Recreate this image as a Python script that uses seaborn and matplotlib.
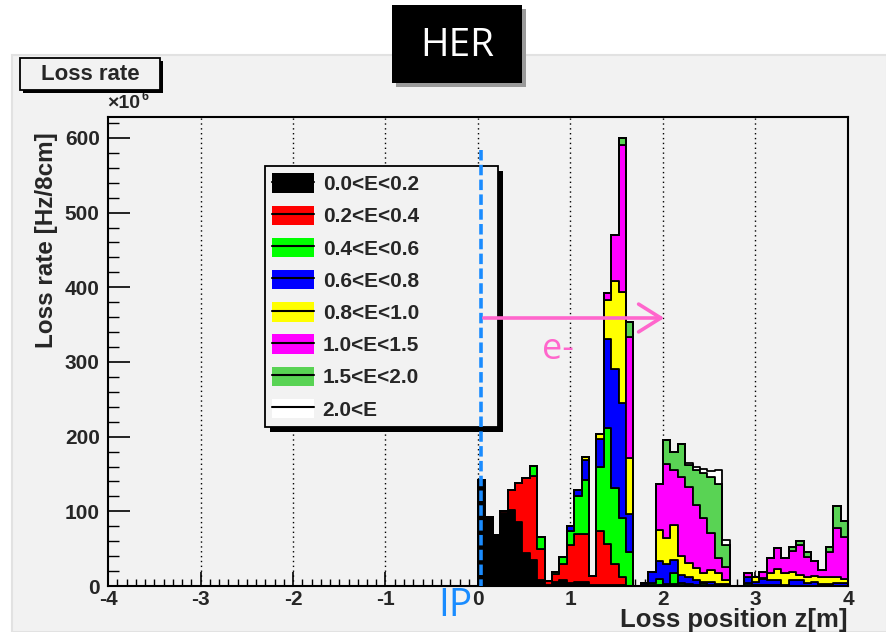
import numpy as np
import pandas as pd
import matplotlib
matplotlib.use("Agg")
import matplotlib.pyplot as plt
import seaborn as sns
from matplotlib.patches import Patch, Rectangle, FancyArrowPatch
from matplotlib.lines import Line2D
from matplotlib.ticker import MultipleLocator

# ---------------- data (loss rate in 1e6 Hz per 8 cm bin) ----------------
bin_width = 0.08            # m
z_min, z_max = -4.0, 4.0
n_filled = 50               # bins from z = 0 to 4 m (z < 0 is empty)

energy_labels = ["0.0<E<0.2", "0.2<E<0.4", "0.4<E<0.6", "0.6<E<0.8",
                 "0.8<E<1.0", "1.0<E<1.5", "1.5<E<2.0", "2.0<E"]
energy_colors = ["#000000", "#ff0000", "#00ff00", "#0000ff",
                 "#ffff00", "#ff00ff", "#59d354", "#ffffff"]

e00_02 = [142, 93, 68, 98, 102, 86, 44, 35, 8, 2,
          5, 8, 4, 6, 6, 1, 2, 2, 2, 1,
          0, 0, 1, 1, 2, 1, 3, 1, 1, 0,
          2, 1, 1, 1, 0, 0, 1, 1, 1, 1,
          1, 1, 0, 0, 0, 0, 0, 0, 0, 0]
e02_04 = [0, 0, 0, 2, 27, 52, 100, 112, 41, 5,
          11, 22, 51, 64, 64, 13, 71, 54, 28, 11,
          0, 0, 0, 0, 0, 0, 0, 0, 0, 0,
          0, 0, 0, 0, 0, 0, 0, 0, 0, 0,
          0, 0, 0, 0, 0, 0, 0, 0, 0, 0]
e04_06 = [0, 0, 0, 0, 0, 0, 0, 14, 16, 0,
          3, 9, 18, 50, 72, 0, 87, 155, 101, 79,
          46, 0, 1, 3, 7, 2, 15, 3, 2, 1,
          2, 1, 0, 0, 0, 0, 3, 0, 0, 0,
          0, 0, 0, 0, 0, 0, 0, 0, 0, 0]
e06_08 = [0, 0, 0, 0, 0, 0, 0, 0, 0, 0,
          0, 0, 7, 9, 27, 0, 37, 120, 160, 154,
          51, 0, 2, 15, 24, 27, 17, 11, 9, 7,
          2, 3, 2, 2, 0, 0, 8, 5, 8, 7,
          7, 1, 8, 8, 4, 5, 3, 3, 4, 4]
e08_10 = [0, 0, 0, 0, 0, 0, 0, 0, 0, 0,
          0, 0, 0, 0, 4, 0, 7, 52, 117, 149,
          74, 0, 0, 0, 42, 34, 47, 25, 19, 16,
          12, 17, 14, 5, 0, 0, 0, 6, 2, 9,
          15, 16, 11, 7, 8, 8, 9, 9, 8, 6]
e10_15 = [0, 0, 0, 0, 0, 0, 0, 0, 0, 0,
          0, 0, 0, 0, 0, 0, 0, 9, 62, 196,
          163, 0, 0, 0, 62, 100, 73, 106, 102, 84,
          73, 49, 20, 17, 0, 0, 5, 0, 8, 21,
          28, 20, 28, 40, 27, 21, 10, 34, 65, 56]
e15_20 = [0, 0, 0, 0, 0, 0, 0, 0, 0, 0,
          0, 0, 0, 0, 0, 0, 0, 0, 0, 10,
          20, 0, 0, 0, 0, 32, 25, 44, 29, 47,
          60, 75, 100, 30, 0, 0, 0, 0, 0, 0,
          0, 0, 5, 5, 7, 0, 0, 6, 30, 21]
e20_up = [0, 0, 0, 0, 0, 0, 0, 0, 0, 0,
          0, 0, 0, 0, 0, 0, 0, 0, 0, 0,
          0, 0, 0, 0, 0, 0, 0, 0, 3, 5,
          5, 8, 18, 6, 0, 0, 1, 0, 0, 0,
          0, 0, 0, 0, 0, 0, 0, 0, 0, 0]

series = [e00_02, e02_04, e04_06, e06_08, e08_10, e10_15, e15_20, e20_up]

x_ticks = [-4, -3, -2, -1, 0, 1, 2, 3, 4]
y_ticks = [0, 100, 200, 300, 400, 500, 600]

# long table for seaborn
centers = np.arange(n_filled) * bin_width + bin_width / 2
df = pd.concat([pd.DataFrame({"z": centers, "E": lab, "rate": vals})
                for lab, vals in zip(energy_labels, series)], ignore_index=True)
palette = dict(zip(energy_labels, energy_colors))

# ---------------- styling ----------------
sns.set_style("ticks")
plt.rcParams["font.family"] = ["Liberation Sans", "DejaVu Sans"]
plt.rcParams["axes.unicode_minus"] = False

W, H = 887, 632
def fx(x): return x / W
def fy(y): return 1 - y / H

fig = plt.figure(figsize=(W / 100, H / 100), dpi=100)
fig.patch.set_facecolor("white")
BG = "#f2f2f2"

# ROOT canvas
fig.add_artist(Rectangle((fx(12), 0), fx(W - 12), 1 - 55 / H, transform=fig.transFigure,
                         facecolor=BG, edgecolor="#e2e2e2", lw=1.5, zorder=-5))

ax = fig.add_axes([fx(108), fy(586), fx(740), 469 / H])
ax.set_facecolor(BG)

sns.histplot(data=df, x="z", weights="rate", hue="E",
             hue_order=energy_labels[::-1], palette=palette,
             multiple="stack", element="step", binwidth=bin_width,
             binrange=(z_min, z_max), fill=True,
             alpha=1, edgecolor="black", linewidth=1.3, legend=False, ax=ax)

ax.set_xlim(z_min, z_max)
ax.set_ylim(0, 628)
ax.set_xlabel("")
ax.set_ylabel("")
ax.set_xticks(x_ticks)
ax.set_xticklabels([str(t) for t in x_ticks])
ax.set_yticks(y_ticks)
ax.set_yticklabels([str(t) for t in y_ticks])
ax.xaxis.set_minor_locator(MultipleLocator(0.1))
ax.yaxis.set_minor_locator(MultipleLocator(20))
ax.tick_params(axis="x", which="major", direction="in", length=10, width=1.2,
               labelsize=15, pad=3, color="black")
ax.tick_params(axis="x", which="minor", direction="in", length=5, width=1.0, color="black")
ax.tick_params(axis="y", which="major", direction="in", length=16, width=1.2,
               labelsize=15, pad=6, color="black")
ax.tick_params(axis="y", which="minor", direction="in", length=8, width=1.0, color="black")
for lab in ax.get_xticklabels() + ax.get_yticklabels():
    lab.set_fontweight("bold")
for sp in ax.spines.values():
    sp.set_visible(True)
    sp.set_color("black")
    sp.set_linewidth(1.5)
for xv in x_ticks[1:-1]:
    ax.axvline(xv, color="black", lw=1.0, ls=(0, (1, 2.5)), zorder=0.5)

# axis titles
fig.text(fx(47), fy(240), "Loss rate [Hz/8cm]", rotation=90, ha="center", va="center",
         fontsize=17.5, fontweight="bold")
fig.text(fx(848), fy(620), "Loss position z[m]", ha="right", va="center",
         fontsize=18.5, fontweight="bold")
fig.text(fx(107), fy(104), "\u00d710", ha="left", va="center", fontsize=14, fontweight="bold")
fig.text(fx(142), fy(97), "6", ha="left", va="center", fontsize=9, fontweight="bold")

# "Loss rate" title box
fig.add_artist(Rectangle((fx(23), fy(93)), fx(140), 32 / H, transform=fig.transFigure,
                         facecolor="black", edgecolor="none", zorder=5))
fig.add_artist(Rectangle((fx(20), fy(90)), fx(140), 32 / H, transform=fig.transFigure,
                         facecolor=BG, edgecolor="black", lw=1.3, zorder=6))
fig.text(fx(90), fy(74), "Loss rate", ha="center", va="center", fontsize=16,
         fontweight="bold", zorder=7)

# legend
handles = [(Patch(facecolor=c, edgecolor="none"), Line2D([], [], color="black", lw=1.5))
           for c in energy_colors]
leg_top, leg_bot = 166, 430
leg = ax.legend(handles, energy_labels, loc="upper left",
                bbox_to_anchor=((265 - 108) / 740, (586 - leg_bot) / 469,
                                (498 - 265) / 740, (leg_bot - leg_top) / 469),
                mode="expand", borderaxespad=0, frameon=True, fancybox=False,
                framealpha=1, facecolor=BG, edgecolor="black",
                prop={"weight": "bold", "size": 15}, handlelength=2.0,
                handleheight=1.05, labelspacing=0.55, handletextpad=0.42,
                borderpad=0.35)
leg.get_frame().set_linewidth(1.3)
leg.set_zorder(6)

fig.canvas.draw()
bb = leg.get_window_extent()
ax.add_patch(Rectangle((bb.x0 + 5, bb.y0 - 5), bb.width, bb.height, transform=None,
                       facecolor="black", edgecolor="none", zorder=5.5, clip_on=False))

# slide overlays
fig.add_artist(Rectangle((fx(396), fy(87)), fx(130), 78 / H, transform=fig.transFigure,
                         facecolor="#9a9a9a", edgecolor="none", zorder=9))
fig.add_artist(Rectangle((fx(392), fy(83)), fx(130), 78 / H, transform=fig.transFigure,
                         facecolor="black", edgecolor="none", zorder=10))
fig.text(fx(457), fy(46), "HER", ha="center", va="center", color="white",
         fontsize=28, family=["Open Sans", "DejaVu Sans"], zorder=11)

fig.add_artist(Line2D([fx(481), fx(481)], [fy(150), fy(586)], transform=fig.transFigure,
                      color="#1a8cff", lw=2.6, dashes=(2.9, 1.2), zorder=12))
fig.add_artist(FancyArrowPatch(posA=(fx(481), fy(318)), posB=(fx(667), fy(318)),
                               transform=fig.transFigure,
                               arrowstyle="->,head_length=0.8,head_width=0.5",
                               mutation_scale=20, color="#ff66cc", lw=2.6, zorder=12))
fig.text(fx(558), fy(350), "e-", ha="center", va="center", color="#ff66cc",
         fontsize=26, family=["Open Sans", "DejaVu Sans"], zorder=12)
fig.text(fx(455), fy(606), "IP", ha="center", va="center", color="#1a8cff",
         fontsize=28, family=["Open Sans", "DejaVu Sans"], zorder=12)

fig.savefig("out.png", dpi=100, facecolor=fig.get_facecolor())
